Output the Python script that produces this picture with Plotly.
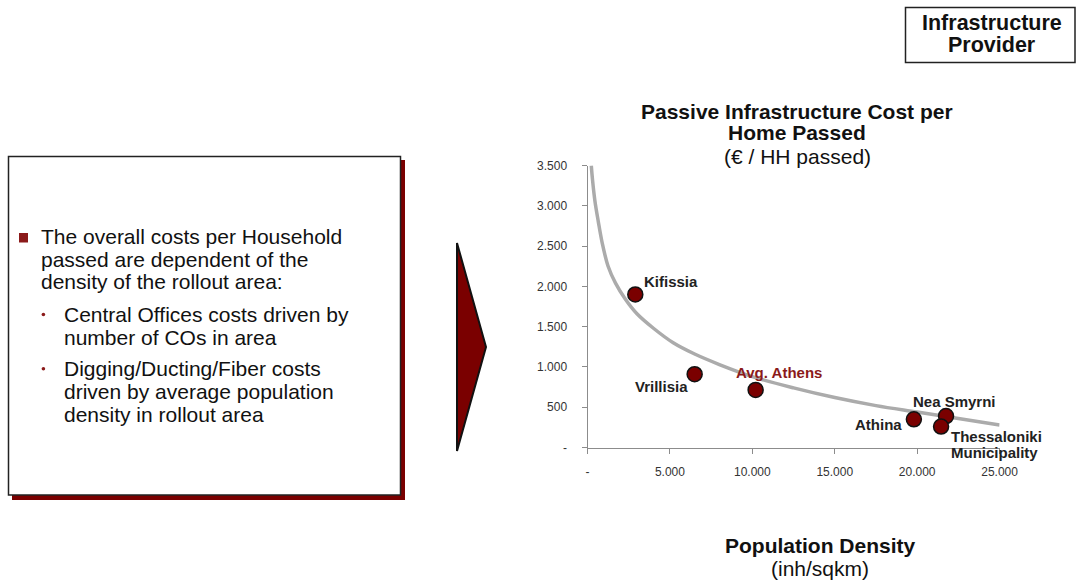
import plotly.graph_objects as go

# ---- data -------------------------------------------------------------
areas = ["Kifissia", "Vrillisia", "Avg. Athens", "Athina", "Nea Smyrni",
         "Thessaloniki Municipality"]
density = [2900, 6500, 10200, 19800, 21750, 21450]      # inh/sqkm
cost = [1900, 910, 715, 350, 390, 260]                   # EUR per home passed

# trend line through the cloud (density, cost)
trend_density = [230, 300, 450, 650, 900, 1250, 1700, 2300, 3000, 4000,
                 5200, 6500, 8000, 10000, 12500, 15000, 17500, 20000,
                 22500, 25000]
trend_cost = [3500, 3330, 3060, 2810, 2530, 2250, 2040, 1840, 1660, 1480,
              1300, 1160, 1030, 880, 740, 620, 520, 440, 360, 280]

x_ticks = [0, 5000, 10000, 15000, 20000, 25000]
x_ticktext = ["-", "5.000", "10.000", "15.000", "20.000", "25.000"]
y_ticks = [0, 500, 1000, 1500, 2000, 2500, 3000, 3500]
y_ticktext = ["-", "500", "1.000", "1.500", "2.000", "2.500", "3.000", "3.500"]

headline = ["The overall costs per Household",
            "passed are dependent of the",
            "density of the rollout area:"]
sub_points = [["Central Offices costs driven by", "number of COs in area"],
              ["Digging/Ducting/Fiber costs", "driven by average population",
               "density in rollout area"]]

# ---- styling ----------------------------------------------------------
W, H = 1077, 580
FONT = "Liberation Sans, Arial, sans-serif"
DARK_RED = "#7a0000"
LABEL_RED = "#8b1a1a"
AXIS_GREY = "#8c8c8c"


def px(x):
    return x / W


def py(y):
    return 1 - y / H


# label placement per point: (xanchor, xshift, yshift, colour)
label_style = {
    "Kifissia": ("left", 7, 13, "#222222"),
    "Vrillisia": ("right", -5, -12, "#222222"),
    "Avg. Athens": ("left", -22, 17, LABEL_RED),
    "Athina": ("right", -10, -5, "#222222"),
    "Nea Smyrni": ("left", -35, 15, "#222222"),
    "Thessaloniki Municipality": ("left", 8, -10, "#222222"),
}

fig = go.Figure()

fig.add_trace(go.Scatter(
    x=trend_density, y=trend_cost, mode="lines",
    line=dict(color="#ababab", width=3.5, shape="spline", smoothing=1),
    hoverinfo="skip", showlegend=False))

fig.add_trace(go.Scatter(
    x=density, y=cost, mode="markers", text=areas,
    marker=dict(size=15, color=DARK_RED, line=dict(color="#111111", width=1.5)),
    cliponaxis=False, showlegend=False))

annotations = []

# point labels
for name, xv, yv in zip(areas, density, cost):
    anchor, xs, ys, col = label_style[name]
    lines = name.split(" ") if name.startswith("Thessaloniki") else [name]
    for i, line in enumerate(lines):
        annotations.append(dict(
            x=xv, y=yv, xref="x", yref="y", text="<b>%s</b>" % line,
            showarrow=False, xanchor=anchor, yanchor="middle",
            xshift=xs, yshift=ys - 16 * i,
            font=dict(family=FONT, size=15, color=col)))

# chart titles
for text, y, bold in [("Passive Infrastructure Cost per", 111, True),
                      ("Home Passed", 132.5, True),
                      ("(€ / HH passed)", 156, False)]:
    annotations.append(dict(
        x=px(797), y=py(y), xref="paper", yref="paper",
        text="<b>%s</b>" % text if bold else text, showarrow=False,
        xanchor="center", yanchor="middle",
        font=dict(family=FONT, size=21, color="#111111")))

for text, y, bold in [("Population Density", 545, True),
                      ("(inh/sqkm)", 568, False)]:
    annotations.append(dict(
        x=px(820), y=py(y), xref="paper", yref="paper",
        text="<b>%s</b>" % text if bold else text, showarrow=False,
        xanchor="center", yanchor="middle",
        font=dict(family=FONT, size=21, color="#111111")))

# provider tag
for text, y in [("Infrastructure", 23), ("Provider", 45.5)]:
    annotations.append(dict(
        x=px(992), y=py(y), xref="paper", yref="paper",
        text="<b>%s</b>" % text, showarrow=False,
        xanchor="center", yanchor="middle",
        font=dict(family=FONT, size=21.5, color="#111111")))

# text box contents
for i, line in enumerate(headline):
    annotations.append(dict(
        x=px(39), y=py(236.5 + 22.7 * i), xref="paper", yref="paper",
        text=line, showarrow=False, xanchor="left", yanchor="middle",
        font=dict(family=FONT, size=21, color="#111111")))

y0 = 314.5
bullet_rows = []
for block in sub_points:
    bullet_rows.append(y0)
    for j, line in enumerate(block):
        annotations.append(dict(
            x=px(62), y=py(y0 + 22.7 * j), xref="paper", yref="paper",
            text=line, showarrow=False, xanchor="left", yanchor="middle",
            font=dict(family=FONT, size=21, color="#111111")))
    y0 += 22.7 * (len(block) - 1) + 31.5

shapes = []
# box shadow
shapes.append(dict(type="rect", xref="paper", yref="paper",
                   x0=px(12), x1=px(405), y0=py(500), y1=py(160),
                   line=dict(width=0), fillcolor=DARK_RED, layer="below"))
# text box
shapes.append(dict(type="rect", xref="paper", yref="paper",
                   x0=px(8.5), x1=px(400.5), y0=py(495), y1=py(156.5),
                   line=dict(color="#222222", width=1.5), fillcolor="white",
                   layer="below"))
# square bullet
shapes.append(dict(type="rect", xref="paper", yref="paper",
                   x0=px(19), x1=px(28), y0=py(242.5), y1=py(233),
                   line=dict(width=0), fillcolor=LABEL_RED))
# round sub-bullets
for yb in bullet_rows:
    shapes.append(dict(type="circle", xref="paper", yref="paper",
                       x0=px(41.6), x1=px(45.2), y0=py(yb + 1.8), y1=py(yb - 1.8),
                       line=dict(width=0), fillcolor=LABEL_RED))
# arrow
shapes.append(dict(type="path", xref="paper", yref="paper",
                   path="M %f,%f L %f,%f L %f,%f Z" % (
                       px(457), py(243), px(486), py(347), px(457), py(451)),
                   line=dict(color="#111111", width=2), fillcolor=DARK_RED))
# provider tag frame
shapes.append(dict(type="rect", xref="paper", yref="paper",
                   x0=px(905.5), x1=px(1075), y0=py(62.5), y1=py(7.5),
                   line=dict(color="#222222", width=1.5), fillcolor="white",
                   layer="below"))

axis_common = dict(showline=True, linecolor=AXIS_GREY, linewidth=1,
                   ticks="outside", ticklen=5, tickcolor=AXIS_GREY,
                   tickwidth=1, showgrid=False, zeroline=False,
                   automargin=False,
                   tickfont=dict(family=FONT, size=12, color="#333333"))

fig.update_layout(
    width=W, height=H,
    margin=dict(l=0, r=0, t=0, b=0, pad=0),
    paper_bgcolor="white", plot_bgcolor="white",
    xaxis=dict(range=[0, 25000], domain=[px(587.5), px(999.6)],
               tickvals=x_ticks, ticktext=x_ticktext,
               ticklabelstandoff=8, **axis_common),
    yaxis=dict(range=[0, 3500], domain=[py(447.5), py(165.5)],
               tickvals=y_ticks, ticktext=y_ticktext,
               ticklabelstandoff=12, **axis_common),
    annotations=annotations,
    shapes=shapes,
    showlegend=False,
)

fig.write_html("out.html")
